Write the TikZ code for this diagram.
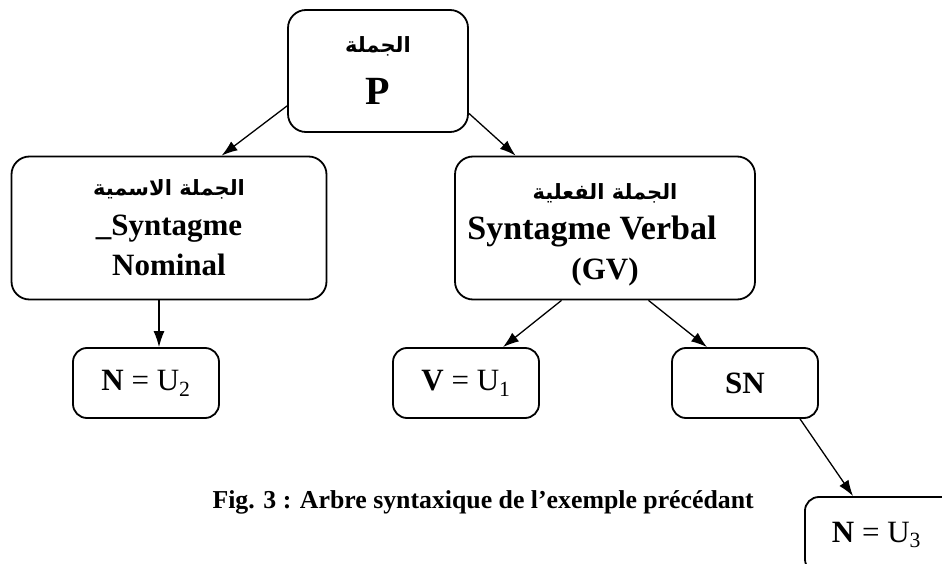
\documentclass[tikz,border=0pt]{standalone}
\usepackage{fontspec}
\setmainfont{Liberation Serif}
\newfontfamily\arabicfont[Script=Arabic]{DejaVu Sans}
\TeXXeTstate=1
\usetikzlibrary{positioning, arrows.meta, calc}
\newcommand{\Ar}[1]{{\arabicfont\bfseries\fontsize{21}{25}\selectfont\beginR #1\endR}}
\tikzset{
    box/.style={draw, line width=1.8pt, rounded corners=18pt, align=center,
      inner sep=0pt, font=\bfseries\fontsize{31}{40}\selectfont},
    leaf/.style={box, rounded corners=14pt, minimum width=146pt,
      minimum height=70pt, font=\fontsize{31}{36}\selectfont},
    arr/.style={-{Latex[length=16pt,width=11pt]}, line width=1.3pt},
}

\begin{document}
\begin{tikzpicture}[x=1pt, y=-1pt]
    \useasboundingbox (0,0) rectangle (942,564);

    % the sentence and its two groups
    \node[box, minimum width=180pt, minimum height=122pt] (P) at (378,71)
        {\Ar{الجملة}\\[12pt]{\fontsize{40}{40}\selectfont P}};
    \node[box, minimum width=315pt, minimum height=143pt] (SN) at (169,228)
        {\Ar{الجملة الاسمية}\\\_Syntagme\\Nominal};
    \node[box, minimum width=300pt, minimum height=143pt] (SV) at (605,228)
        {\rule{0pt}{30pt}\Ar{الجملة الفعلية}\\{\bfseries\fontsize{34}{40}\selectfont Syntagme Verbal}\rule{26pt}{0pt}\\(GV)};

    % the leaves
    \node[leaf] (N2) at (146,383) {\textbf{N} = U\textsubscript{2}};
    \node[leaf] (V1) at (466,383) {\textbf{V} = U\textsubscript{1}};
    \node[leaf] (SN2) at (745,383) {\textbf{SN}};
    \node[leaf, inner xsep=0pt, minimum width=0pt, minimum height=76pt] (N3) at (883,535)
        {\hspace*{27pt}\textbf{N} = U\textsubscript{3}\hspace*{40pt}};

    \draw[arr] (P.201) -- (SN.54);
    \draw[arr] (P.335) -- (SV.141);
    \draw[arr] ([xshift=-10pt]SN.south) -- ([xshift=13pt]N2.north);
    \draw[arr] (SV.239) -- ([xshift=37pt]V1.north);
    \draw[arr] (SV.301) -- ([xshift=-38pt]SN2.north);
    \draw[arr] ([xshift=55pt]SN2.south) -- ([xshift=49pt]N3.north west);

    \node[font=\bfseries\fontsize{25.8}{28}\selectfont, anchor=west] (cap) at (209,502)
        {Fig. 3 : Arbre syntaxique de l’exemple précédant};
\end{tikzpicture}
\end{document}
